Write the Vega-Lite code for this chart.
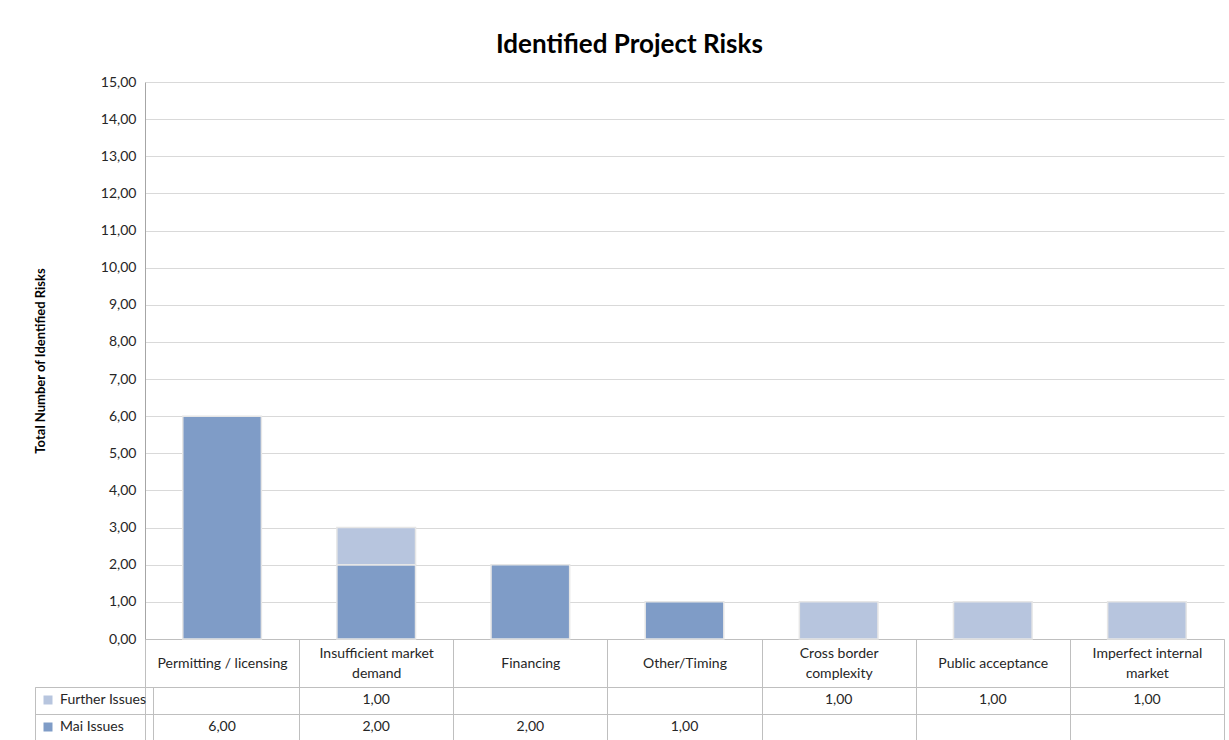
{
  "$schema": "https://vega.github.io/schema/vega-lite/v6.json",
  "padding": {"left": 34, "top": 32, "right": 4, "bottom": 0},
  "bounds": "flush",
  "spacing": 48,
  "title": {"text": "Identified Project Risks", "fontSize": 26, "fontWeight": "bold", "font": "Lato", "color": "#000000", "anchor": "middle", "offset": 17},
  "config": {
    "locale": {"number": {"decimal": ",", "thousands": ".", "grouping": [3], "currency": ["", " €"]}},
    "font": "Lato",
    "view": {"stroke": null}
  },
  "datasets": {
    "risks": [
      {"category": "Permitting / licensing", "series": "Mai Issues", "value": 6},
      {"category": "Insufficient market demand", "series": "Mai Issues", "value": 2},
      {"category": "Insufficient market demand", "series": "Further Issues", "value": 1},
      {"category": "Financing", "series": "Mai Issues", "value": 2},
      {"category": "Other/Timing", "series": "Mai Issues", "value": 1},
      {"category": "Cross border complexity", "series": "Further Issues", "value": 1},
      {"category": "Public acceptance", "series": "Further Issues", "value": 1},
      {"category": "Imperfect internal market", "series": "Further Issues", "value": 1}
    ]
  },
  "resolve": {"scale": {"color": "shared", "x": "shared"}},
  "vconcat": [
    {
      "width": 1079,
      "height": 557,
      "data": {"name": "risks"},
      "mark": {"type": "bar", "width": {"band": 0.51}, "stroke": "#e6e6e6", "strokeWidth": 1.5},
      "encoding": {
        "x": {
          "field": "category", "type": "nominal",
          "sort": ["Permitting / licensing", "Insufficient market demand", "Financing", "Other/Timing", "Cross border complexity", "Public acceptance", "Imperfect internal market"],
          "scale": {"paddingInner": 0, "paddingOuter": 0},
          "axis": {
            "title": null, "labelAngle": 0, "tickBand": "extent", "tickSize": 48, "tickColor": "#bfbfbf",
            "domainColor": "#bfbfbf", "labelBaseline": "middle", "labelFontSize": 14,
            "labelPadding": {"condition": {"test": "datum.value == 'Insufficient market demand' || datum.value == 'Cross border complexity' || datum.value == 'Imperfect internal market'", "value": -34}, "value": -24},
            "labelColor": "#262626", "labelLineHeight": 20, "labelLimit": 200,
            "labelExpr": "datum.value == 'Insufficient market demand' ? ['Insufficient market', 'demand'] : datum.value == 'Cross border complexity' ? ['Cross border', 'complexity'] : datum.value == 'Imperfect internal market' ? ['Imperfect internal', 'market'] : datum.value"
          }
        },
        "y": {
          "field": "value", "type": "quantitative", "stack": "zero",
          "scale": {"domain": [0, 15], "nice": false},
          "axis": {
            "values": [0, 1, 2, 3, 4, 5, 6, 7, 8, 9, 10, 11, 12, 13, 14, 15],
            "format": ".2f", "title": "Total Number of Identified Risks", "titleFontSize": 13, "titleFontWeight": "bold",
            "titleColor": "#000000", "titlePadding": 53, "labelFontSize": 14, "labelColor": "#262626", "labelPadding": 9,
            "ticks": false, "domainColor": "#a6a6a6", "gridColor": "#d9d9d9"
          }
        },
        "color": {
          "field": "series", "type": "nominal",
          "scale": {"domain": ["Further Issues", "Mai Issues"], "range": ["#b7c5de", "#7f9cc7"]},
          "legend": {
            "orient": "none", "legendX": -110, "legendY": 605, "title": null, "symbolType": "square", "symbolSize": 81,
            "symbolStrokeWidth": 0, "labelFontSize": 14, "labelColor": "#262626", "rowPadding": 13, "padding": 6,
            "strokeColor": "#bfbfbf", "labelOffset": 5
          }
        },
        "order": {"field": "series", "sort": "descending"}
      }
    },
    {
      "width": 1079,
      "height": 53,
      "data": {"name": "risks"},
      "mark": {"type": "text", "fontSize": 14, "color": "#262626"},
      "encoding": {
        "x": {
          "field": "category", "type": "nominal",
          "sort": ["Permitting / licensing", "Insufficient market demand", "Financing", "Other/Timing", "Cross border complexity", "Public acceptance", "Imperfect internal market"],
          "scale": {"paddingInner": 0, "paddingOuter": 0},
          "axis": {"title": null, "labels": false, "ticks": false, "domain": false, "grid": true, "tickBand": "extent", "gridColor": "#bfbfbf"}
        },
        "y": {
          "field": "series", "type": "nominal",
          "scale": {"type": "band", "domain": ["Further Issues", "Mai Issues"], "paddingInner": 0, "paddingOuter": 0},
          "axis": {"title": null, "labels": false, "ticks": true, "tickSize": 110, "tickBand": "extent", "tickColor": "#bfbfbf", "domainColor": "#bfbfbf", "grid": true, "gridColor": "#bfbfbf"}
        },
        "text": {"field": "value", "type": "quantitative", "format": ".2f"}
      }
    }
  ]
}
